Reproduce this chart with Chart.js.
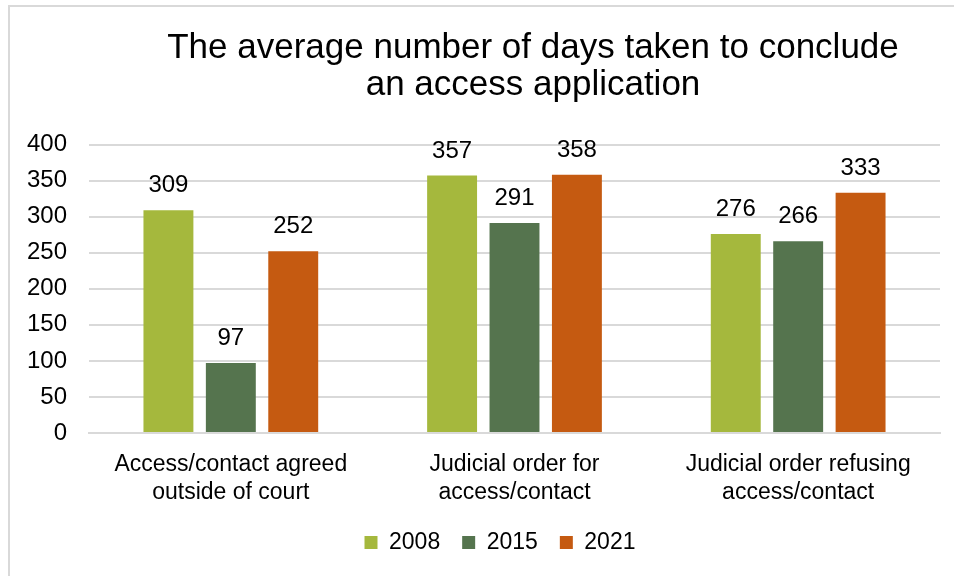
<!DOCTYPE html>
<html>
<head>
<meta charset="utf-8">
<script src="https://cdn.jsdelivr.net/npm/chart.js@4.4.1/dist/chart.umd.min.js"></script>
<style>
  html, body { margin: 0; padding: 0; background: #fff; overflow: hidden; }
  #frame {
    position: absolute; left: 8px; top: 5px;
    width: 1060px; height: 600px;
    border-left: 2px solid #d9d9d9; border-top: 2px solid #d9d9d9;
  }
  #wrap { position: absolute; left: 0; top: 0; width: 1050px; height: 569px; }
</style>
</head>
<body>
<div id="frame"><div id="wrap"><canvas id="myChart"></canvas></div></div>
<script>
// data
const categories = [
  ['Access/contact agreed', 'outside of court'],
  ['Judicial order for', 'access/contact'],
  ['Judicial order refusing', 'access/contact']
];
const series2008 = [309, 357, 276];
const series2015 = [97, 291, 266];
const series2021 = [252, 358, 333];
const yTicks = [0, 50, 100, 150, 200, 250, 300, 350, 400];

const font = "'Liberation Sans', Arial, sans-serif";

// value above every bar
const valueLabels = {
  id: 'valueLabels',
  afterDatasetsDraw(chart) {
    const ctx = chart.ctx;
    ctx.save();
    ctx.font = '24px ' + font;
    ctx.fillStyle = '#000';
    ctx.textAlign = 'center';
    ctx.textBaseline = 'alphabetic';
    chart.data.datasets.forEach((ds, i) => {
      chart.getDatasetMeta(i).data.forEach((bar, j) => {
        ctx.fillText(ds.data[j], bar.x, bar.y - 18);
      });
    });
    ctx.restore();
  }
};

// title and legend are not centred on the plot in the original
const shiftBoxes = {
  id: 'shiftBoxes',
  afterLayout(chart) {
    chart.titleBlock.left += 58;
    chart.titleBlock.right += 58;
    chart.legend.left += 25;
    chart.legend.right += 25;
  }
};

var ctx = document.getElementById('myChart').getContext('2d');
var chart = new Chart(ctx, {
  type: 'bar',
  data: {
    labels: categories,
    datasets: [
      { label: '2008', data: series2008, backgroundColor: '#a5b83d' },
      { label: '2015', data: series2015, backgroundColor: '#55744e' },
      { label: '2021', data: series2021, backgroundColor: '#c55a11' }
    ]
  },
  options: {
    responsive: true,
    maintainAspectRatio: false,
    animation: false,
    categoryPercentage: 0.66,
    barPercentage: 0.8,
    layout: { padding: { left: 0, right: 120, top: 0, bottom: 12 } },
    plugins: {
      title: {
        display: true,
        text: ['The average number of days taken to conclude', 'an access application'],
        color: '#000',
        font: { family: font, size: 35, weight: 'normal', lineHeight: 1.05 },
        padding: { top: 23, bottom: 41 }
      },
      legend: {
        position: 'bottom',
        labels: {
          color: '#000',
          font: { family: font, size: 23 },
          boxWidth: 13, boxHeight: 13,
          padding: 22
        }
      },
      tooltip: { enabled: false }
    },
    scales: {
      x: {
        afterFit(scale) { scale.height = 76; },
        grid: { display: false, drawTicks: false },
        border: { color: '#d9d9d9', width: 2 },
        ticks: { color: '#000', font: { family: font, size: 23, lineHeight: 1.25 }, padding: 17, maxRotation: 0 }
      },
      y: {
        min: 0, max: 400,
        afterFit(scale) { scale.width = 79; },
        afterBuildTicks(scale) { scale.ticks = yTicks.map(v => ({ value: v })); },
        grid: { color: '#d9d9d9', lineWidth: 2, drawTicks: false },
        border: { display: false },
        ticks: { color: '#000', font: { family: font, size: 24 }, padding: 22 }
      }
    }
  },
  plugins: [valueLabels, shiftBoxes]
});
</script>
</body>
</html>
